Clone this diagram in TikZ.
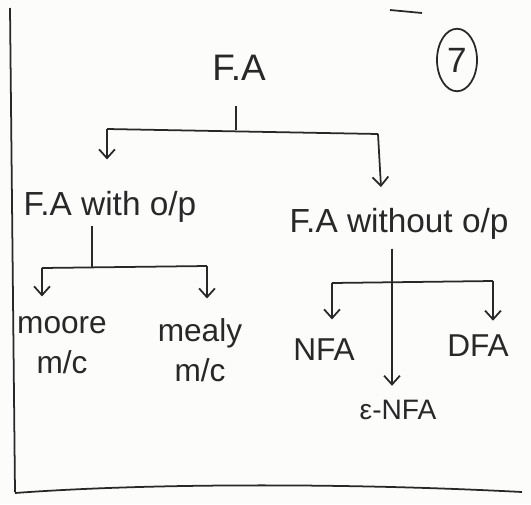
\documentclass[tikz,border=0pt]{standalone}
\usepackage{fontspec}
\setmainfont{Liberation Sans}
\usepackage{tikz}
\usetikzlibrary{shapes.geometric, arrows.meta, positioning, calc}
\definecolor{inkgray}{RGB}{40, 40, 40}
\definecolor{paper}{RGB}{252, 252, 251}

\begin{document}
\begin{tikzpicture}[
    x=0.02cm, y=-0.02cm,
    >={Straight Barb[length=5pt, width=9pt]},
    root_label/.style={inner sep=2pt, text=inkgray, font=\fontsize{21}{25}\selectfont},
    type_label/.style={inner sep=2pt, text=inkgray, font=\fontsize{19}{23}\selectfont},
    machine/.style={inner sep=2pt, text=inkgray, align=center, font=\fontsize{18}{23}\selectfont},
    automaton/.style={inner sep=2pt, text=inkgray, font=\fontsize{18}{22}\selectfont},
    page_no/.style={ellipse, draw=inkgray, line width=1pt, inner sep=0pt,
        minimum width=0.8cm, minimum height=1.25cm, text=inkgray, font=\fontsize{20}{24}\selectfont},
    branch/.style={draw=inkgray, line width=1pt},
    pointer/.style={draw=inkgray, line width=1pt, ->}
]

    % Paper and margin lines
    \fill[paper] (0,0) rectangle (531,504);
    \useasboundingbox (0,0) rectangle (531,504);
    \draw[branch] (10,8) -- (15,492);
    \draw[branch] (15,493) .. controls (150,483) and (350,483) .. (522,492);
    \draw[branch] (390,10) -- (422,13);

    % Root and page number
    \node[root_label] (fa) at (239,68) {F.A};
    \node[page_no] (seven) at (457,60) {7};

    % Second level
    \node[type_label] (withop) at (110,207) {F.A with o/p};
    \node[type_label] (withoutop) at (399,224) {F.A without o/p};

    % Leaves
    \node[machine] (moore) at (62,345) {moore\\m/c};
    \node[machine] (mealy) at (200,350) {mealy\\m/c};
    \node[automaton] (nfa) at (324,350) {NFA};
    \node[automaton] (dfa) at (478,346) {DFA};
    \node[automaton, font=\fontsize{16}{20}\selectfont] (enfa) at (398,410) {ε-NFA};

    % --- Connections ---

    % F.A -> two kinds
    \coordinate (fa_mid) at (236,130);
    \coordinate (fa_left) at (107,129);
    \coordinate (fa_right) at (378,134);
    \draw[branch, shorten <=12pt] (fa.south -| fa_mid) -- (fa_mid);
    \draw[branch] (fa_left) -- (fa_right);
    \draw[pointer, shorten >=16pt] (fa_left) -- (withop.north -| fa_left);
    \draw[pointer, shorten >=10pt] (fa_right) -- ($(withoutop.north -| fa_right)+(4,0)$);

    % with o/p -> moore, mealy
    \coordinate (w_mid) at (92,268);
    \coordinate (w_left) at (42,268);
    \coordinate (w_right) at (207,266);
    \draw[branch] (withop.south -| w_mid) -- (w_mid);
    \draw[branch] (w_left) -- (w_right);
    \draw[pointer, shorten >=9pt] (w_left) -- (moore.north -| w_left);
    \draw[pointer, shorten >=9pt] (w_right) -- (mealy.north -| w_right);

    % without o/p -> NFA, e-NFA, DFA
    \coordinate (wo_mid) at (392,283);
    \coordinate (wo_left) at (332,283);
    \coordinate (wo_right) at (493,281);
    \draw[branch, shorten <=3pt] (withoutop.south -| wo_mid) -- (wo_mid);
    \draw[branch] (wo_left) -- (wo_right);
    \draw[pointer, shorten >=9pt] (wo_left) -- (nfa.north -| wo_left);
    \draw[pointer, shorten >=6pt] (wo_right) -- (dfa.north -| wo_right);
    \draw[pointer, shorten >=6pt] (wo_mid) -- (enfa.north -| wo_mid);

\end{tikzpicture}
\end{document}
